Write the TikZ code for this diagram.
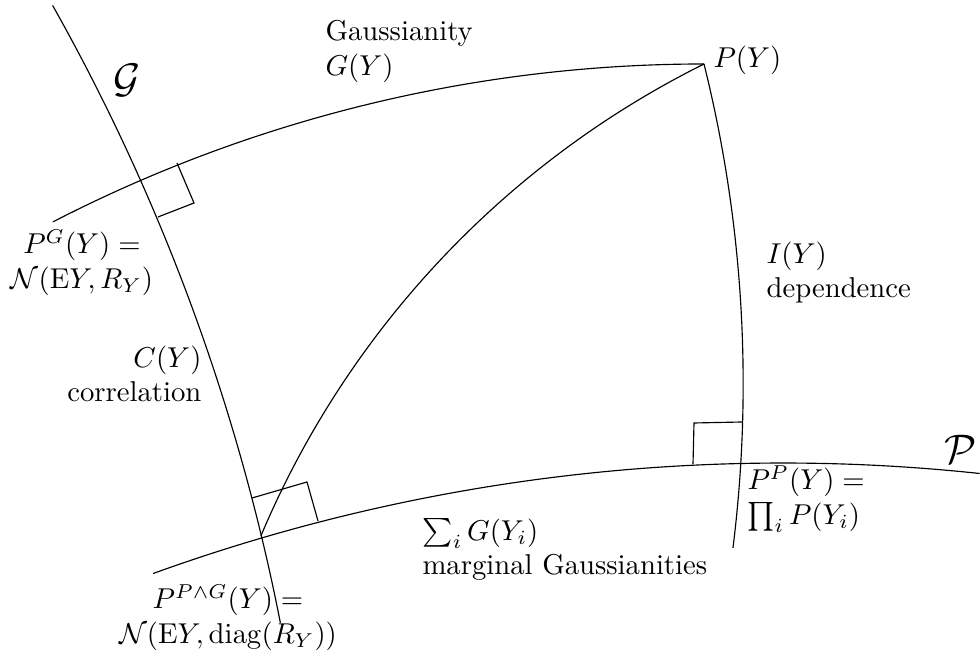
\documentclass[tikz,border=0pt]{standalone}
\usepackage{amsmath}
\begin{document}
\begin{tikzpicture}[x=0.3484pt, y=0.3484pt,
    lbl/.style={inner sep=0pt}]
    \useasboundingbox (0,0) rectangle (980,-654);

    % Meeting points of the curves
    \coordinate (PY) at (704,-64);

    % The two manifolds G and P
    \draw (52.6,-5.4)    arc[start angle=29.4, end angle=11.09, radius=2068];
    \draw (979.7,-473.5) arc[start angle=83.9, end angle=109.9, radius=1851];

    % Projections of P(Y) onto G and P, and the path to their meet
    \draw (PY) arc[start angle=90,     end angle=117.25, radius=1422];
    \draw (PY) arc[start angle=13.97,  end angle=-7.11,  radius=1325];
    \draw (PY) arc[start angle=116.46, end angle=157.16, radius=931];

    % Right angles
    \draw (177,-163) -- (194,-203) -- (158,-217);
    \draw (252,-498) -- (307,-482) -- (318,-521);
    \draw (742,-422) -- (694,-423) -- (693,-464);

    % Labels
    \node[lbl, font=\Large] (gman) at (127,-80)  {$\mathcal{G}$};
    \node[lbl, font=\Large] (pman) at (961,-449) {$\mathcal{P}$};
    \node[lbl, anchor=base west] (pylbl) at (713,-68) {$P(Y)$};
    \node[lbl, anchor=north west, align=left] (gauss) at (325,-20)
        {Gaussianity\\$G(Y)$};
    \node[lbl, anchor=north, align=center] (pglbl) at (82,-229)
        {$P^G(Y) =$\\$\mathcal{N}(\mathrm{E}Y, R_Y)$};
    \node[lbl, anchor=north east, align=right] (corr) at (202,-345)
        {$C(Y)$\\correlation};
    \node[lbl, anchor=north west, align=left] (dep) at (766,-241)
        {$I(Y)$\\dependence};
    \node[lbl, anchor=north west, align=left] (pplbl) at (747,-465)
        {$P^P(Y) =$\\$\prod_i P(Y_i)$};
    \node[lbl, anchor=north west, align=left] (marg) at (422,-518)
        {$\sum_i G(Y_i)$\\marginal Gaussianities};
    \node[lbl, anchor=north, align=center] (ppglbl) at (228,-584)
        {$P^{P\wedge G}(Y) =$\\$\mathcal{N}(\mathrm{E}Y, \mathrm{diag}(R_Y))$};
\end{tikzpicture}
\end{document}
